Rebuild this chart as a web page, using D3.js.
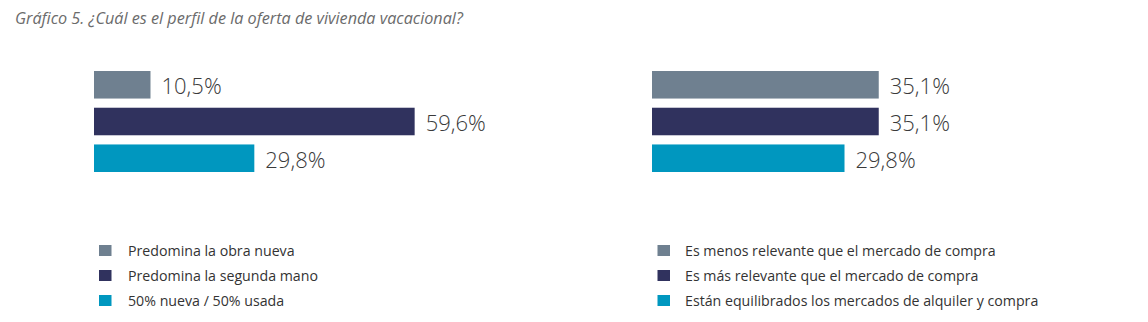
<!DOCTYPE html>
<html><head><meta charset="utf-8">
<script src="https://cdn.jsdelivr.net/npm/d3@7"></script>
<style>
body{margin:0;background:#fff;}
svg{display:block;}
</style></head>
<body>
<svg id="chart" width="1148" height="322"></svg>
<script>
const title = "Gráfico 5. ¿Cuál es el perfil de la oferta de vivienda vacacional?";
const colors = ["#6f8090", "#30325e", "#0097bf"];
const leftCategories = ["Predomina la obra nueva", "Predomina la segunda mano", "50% nueva / 50% usada"];
const leftValues = [10.5, 59.6, 29.8];
const rightCategories = ["Es menos relevante que el mercado de compra", "Es más relevante que el mercado de compra", "Están equilibrados los mercados de alquiler y compra"];
const rightValues = [35.1, 35.1, 29.8];

const svg = d3.select("#chart");
const fmt = v => d3.format(".1f")(v).replace(".", ",") + "%";

svg.append("text")
  .attr("x", 15).attr("y", 24)
  .attr("font-family", "Open Sans").attr("font-style", "italic")
  .attr("font-size", 16.2).attr("fill", "#6b6b6b")
  .text(title);

function panel(x0, pxPerPct, values, cats, sqX, textX) {
  const x = d3.scaleLinear().domain([0, 100]).range([x0, x0 + pxPerPct * 100]);
  const y = d3.scaleBand().domain(d3.range(values.length)).range([71, 172]).paddingInner(0.25).paddingOuter(0);
  const g = svg.append("g");
  g.selectAll("rect.bar").data(values).join("rect").attr("class", "bar")
    .attr("x", x(0)).attr("y", (d, i) => y(i))
    .attr("width", d => x(d) - x(0)).attr("height", y.bandwidth())
    .attr("fill", (d, i) => colors[i]);
  g.selectAll("text.lbl").data(values).join("text").attr("class", "lbl")
    .attr("x", d => x(d) + 11).attr("y", (d, i) => y(i) + y.bandwidth() / 2 + 9.5)
    .attr("font-family", "Open Sans").attr("font-weight", 300)
    .attr("font-size", 22).attr("fill", "#3a3a3a")
    .text(fmt);
  const ly = d3.scalePoint().domain(d3.range(cats.length)).range([250.5, 300.5]);
  g.selectAll("rect.sw").data(cats).join("rect").attr("class", "sw")
    .attr("x", sqX).attr("y", (d, i) => ly(i) - 5.5)
    .attr("width", 12.5).attr("height", 11)
    .attr("fill", (d, i) => colors[i]);
  g.selectAll("text.leg").data(cats).join("text").attr("class", "leg")
    .attr("x", textX).attr("y", (d, i) => ly(i) + 5)
    .attr("font-family", "Open Sans").attr("font-size", 14.2).attr("fill", "#333")
    .text(d => d);
}
panel(94, 5.38, leftValues, leftCategories, 99, 128);
panel(652, 6.46, rightValues, rightCategories, 657.5, 685);
</script>
</body></html>
